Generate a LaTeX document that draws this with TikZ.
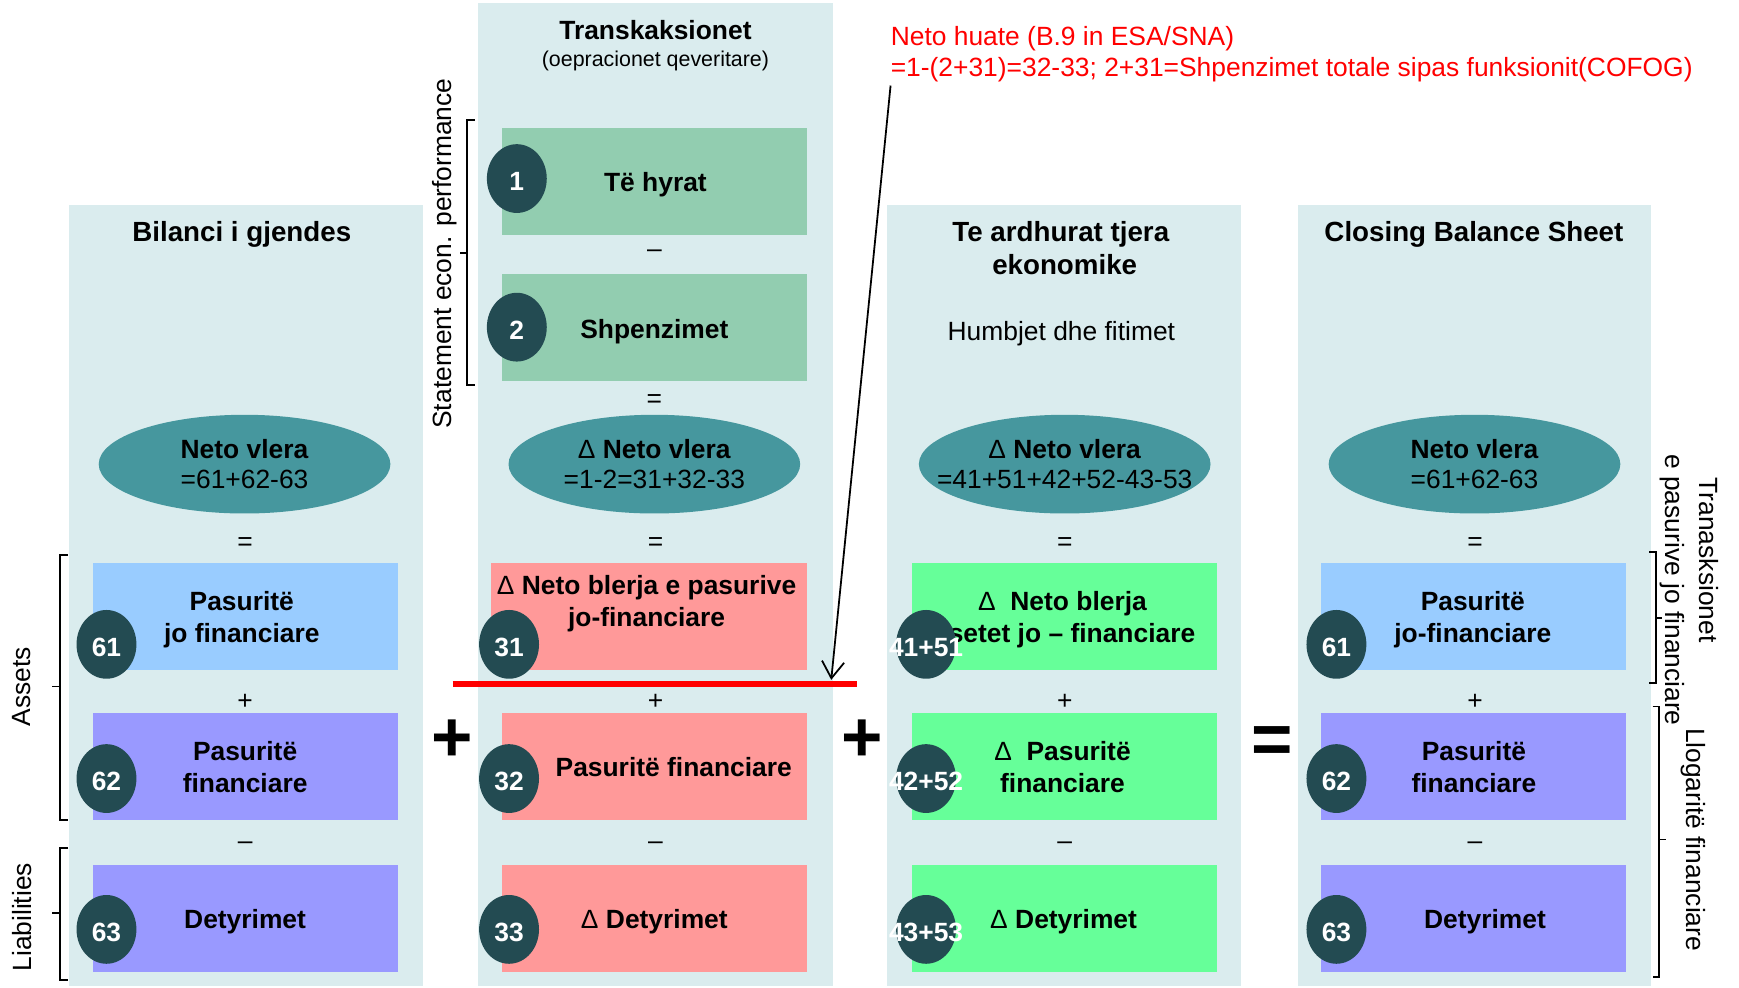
\documentclass[tikz,border=0pt]{standalone}
\usepackage{fontspec}
\setmainfont{Liberation Sans}
\usetikzlibrary{shapes.geometric,arrows.meta}
\definecolor{panelbg}{RGB}{218,236,238}
\definecolor{mint}{RGB}{146,205,176}
\definecolor{tealval}{RGB}{70,151,158}
\definecolor{badgedark}{RGB}{35,75,82}
\definecolor{skyblue}{RGB}{153,204,255}
\definecolor{lilac}{RGB}{153,153,255}
\definecolor{salmon}{RGB}{255,153,153}
\definecolor{lightgreen}{RGB}{102,255,153}
\newcommand\txt{\fontsize{23.8}{29}\selectfont}
\newcommand\dlt{{\mdseries Δ}}
\begin{document}
\begin{tikzpicture}[x = 1pt, y = -1pt,
  panel/.style = {fill = panelbg},
  cell/.style = {inner sep = 0, minimum width = 275, minimum height = 96},
  celltext/.style = {font = \txt\bfseries, align = center, inner sep = 0},
  badge/.style = {ellipse, fill = badgedark, inner sep = 0, minimum width = 54, minimum height = 62},
  badgetext/.style = {text = white, font = \txt\bfseries, inner sep = 0, yshift = -3},
  netvalue/.style = {ellipse, fill = tealval, inner sep = 0, minimum width = 263, minimum height = 89},
  netlabel/.style = {align = center, inner sep = 0, font = \fontsize{23.8}{27}\selectfont},
  op/.style = {font = \txt, inner sep = 0, anchor = base},
  bigop/.style = {font = \fontsize{64}{64}\selectfont\bfseries, inner sep = 0, anchor = base},
  title/.style = {font = \fontsize{25}{30}\selectfont\bfseries, inner sep = 0, anchor = base},
  sidetext/.style = {font = \txt, inner sep = 0},
  bracket/.style = {line width = 1.5}]
\useasboundingbox (0, 0) rectangle (1568, 890);
\fill [panel] (431, 3) rectangle (751, 889);
\foreach \px in {62, 800, 1170} \fill [panel] (\px, 185) rectangle (\px+319, 889);
% boxes
\node [cell, fill = mint] (hyrat) at (590.5, 163.5) {};
\node [cell, fill = mint] (shpenz) at (590.5, 295.5) {};
\node [cell, fill = skyblue] (a61) at (221, 556) {};
\node [cell, fill = lilac] (a62) at (221, 691) {};
\node [cell, fill = lilac] (a63) at (221, 828) {};
\node [cell, fill = salmon, minimum width = 285] (b31) at (585.5, 556) {};
\node [cell, fill = salmon] (b32) at (590.5, 691) {};
\node [cell, fill = salmon] (b33) at (590.5, 828) {};
\node [cell, fill = lightgreen] (c41) at (959.5, 556) {};
\node [cell, fill = lightgreen] (c42) at (959.5, 691) {};
\node [cell, fill = lightgreen] (c43) at (959.5, 828) {};
\node [cell, fill = skyblue] (d61) at (1329, 556) {};
\node [cell, fill = lilac] (d62) at (1329, 691) {};
\node [cell, fill = lilac] (d63) at (1329, 828) {};
\node [celltext] (t-hyrat) at (591, 166.5) {Të hyrat};
\node [celltext] (t-shpenz) at (590, 299) {Shpenzimet};
\node [celltext] (t61) at (218, 558.4) {Pasuritë\\jo financiare};
\node [celltext] (t62) at (221, 691.5) {Pasuritë\\financiare};
\node [celltext] (t63) at (221, 831) {Detyrimet};
\node [celltext, font = \fontsize{23.8}{28}\selectfont\bfseries] (t31) at (583, 544.3) {\dlt{} Neto blerja e pasurive\\jo-financiare};
\node [celltext] (t32) at (607.5, 692) {Pasuritë financiare};
\node [celltext] (t33) at (590, 831) {\dlt{} Detyrimet};
\node [celltext] (t41) at (958, 558.8) {\dlt~~Neto blerja\\Asetet jo – financiare};
\node [celltext] (t42) at (958, 691.5) {\dlt~~Pasuritë\\financiare};
\node [celltext] (t43) at (959, 831) {\dlt{} Detyrimet};
\node [celltext] (u61) at (1328, 558.4) {Pasuritë\\jo-financiare};
\node [celltext] (u62) at (1329, 691.5) {Pasuritë\\financiare};
\node [celltext] (u63) at (1339, 831) {Detyrimet};
% numbered badges
\foreach \bx/\by/\bn [count = \i] in {466/161/1, 466/295/2, 96/581/61, 96/702/62, 96/838/63,
    459/581/31, 459/702/32, 459/838/33, 835/581/41+51, 835/702/42+52, 835/838/43+53,
    1205/581/61, 1205/702/62, 1205/838/63} {
  \node [badge] (badge\i) at (\bx, \by) {};
  \node [badgetext] (num\i) at (badge\i) {\bn};
}
% net value
\node [netvalue] (nv-a) at (220.5, 418.5) {};
\node [netvalue] (nv-b) at (590, 418.5) {};
\node [netvalue] (nv-c) at (960, 418.5) {};
\node [netvalue] (nv-d) at (1329.5, 418.5) {};
\node [netlabel] (nvt-a) at (nv-a) {\textbf{Neto vlera}\\=61+62-63};
\node [netlabel] (nvt-b) at (nv-b) {\textbf{\dlt{} Neto vlera}\\=1-2=31+32-33};
\node [netlabel] (nvt-c) at (nv-c) {\textbf{\dlt{} Neto vlera}\\=41+51+42+52-43-53};
\node [netlabel] (nvt-d) at (nv-d) {\textbf{Neto vlera}\\=61+62-63};
% operators
\node [op] (minus-top) at (590, 232.5) {–};
\node [op] (eq-top) at (590, 367) {=};
\foreach \cx in {221, 591, 960, 1330} {
  \node [op] (eq-\cx) at (\cx, 496) {=};
  \node [op] (plus-\cx) at (\cx, 640) {+};
  \node [op] (minus-\cx) at (\cx, 766) {–};
}
\node [bigop] (bigplus-a) at (408, 687) {+};
\node [bigop] (bigplus-b) at (777, 687) {+};
\node [bigop] (bigeq) at (1147.5, 688) {=};
% titles
\node [title] (bilanci) at (218, 218) {Bilanci i gjendes};
\node [title, font = \txt\bfseries] (trans) at (591, 36) {Transkaksionet};
\node [inner sep = 0, anchor = base, font = \fontsize{19.3}{22}\selectfont] (oper) at (591, 60) {(oepracionet qeveritare)};
\node [title] (tjera) at (956.5, 218) {Te ardhurat tjera};
\node [title] (ekon) at (960, 247.5) {ekonomike};
\node [title] (closing) at (1329, 218) {Closing Balance Sheet};
\node [sidetext, anchor = base] (humbjet) at (957, 307) {Humbjet dhe fitimet};
% side labels
\node [sidetext, rotate = 90] (stmt) at (401, 228.6) {Statement econ. performance};
\node [sidetext, rotate = 90] (assets) at (19.5, 619) {Assets};
\node [sidetext, rotate = 90] (liab) at (19.5, 827) {Liabilities};
\node [sidetext, rotate = -90] (tranas) at (1541, 505) {Tranasksionet};
\node [sidetext, rotate = -90] (epas) at (1508, 532) {e pasurive jo financiare};
\node [sidetext, rotate = -90] (llog) at (1527, 757) {Llogaritë financiare};
\draw [bracket] (428, 108) -- (421, 108) -- (421, 347) -- (428, 347);
\draw [bracket] (421, 228) -- (415, 228);
\draw [bracket] (61.5, 500.5) -- (54, 500.5) -- (54, 739.5) -- (61.5, 739.5);
\draw [bracket] (54, 619) -- (47, 619);
\draw [bracket] (61.5, 764.5) -- (54, 764.5) -- (54, 883.5) -- (61.5, 883.5);
\draw [bracket] (54, 823.5) -- (47, 823.5);
\draw [bracket] (1487, 498) -- (1493, 498) -- (1493, 616) -- (1487, 616);
\draw [bracket] (1493, 557) -- (1499, 557);
\draw [bracket] (1490, 637) -- (1496, 637) -- (1496, 881) -- (1490, 881);
\draw [bracket] (1496, 757) -- (1502, 757);
% net lending
\coordinate (redl) at (408, 617);
\coordinate (redr) at (773, 617);
\coordinate (tip) at (749.5, 613);
\draw [red, line width = 5.5] (redl) -- (redr);
\node [sidetext, text = red, anchor = base west] (huate1) at (803, 41) {Neto huate (B.9 in ESA/SNA)};
\node [sidetext, text = red, anchor = base west] (huate2) at (803, 69) {=1-(2+31)=32-33; 2+31=Shpenzimet totale sipas funksionit(COFOG)};
\draw [-{Straight Barb[length = 15pt, width = 20pt]}, line width = 1.6] ([yshift = -3pt]huate2.south west) -- (tip);
\end{tikzpicture}
\end{document}
